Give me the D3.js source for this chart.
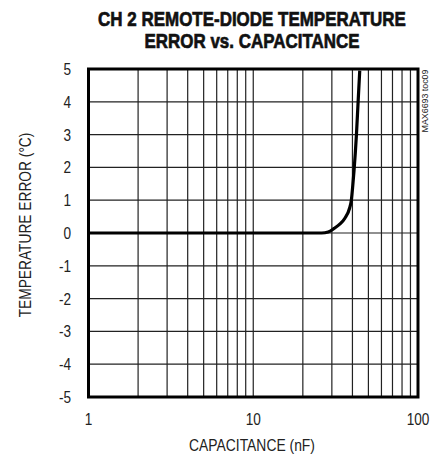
<!DOCTYPE html>
<html>
<head>
<meta charset="utf-8">
<script src="https://cdn.jsdelivr.net/npm/d3@7"></script>
<style>
  body { margin: 0; background: #fff; }
  text { font-family: "Liberation Sans", "DejaVu Sans", sans-serif; fill: #222; }
</style>
</head>
<body>
<div id="chart"></div>
<script>
// capacitance in nF, temperature error in degC
const capacitance = [1, 5, 10, 20, 26, 28.5, 31, 33.5, 36, 38.5, 39.4, 40.2, 40.9, 42.3, 43.3, 44.3];
const tempError   = [0, 0, 0, 0, 0, 0.03, 0.14, 0.27, 0.45, 0.77, 1.0, 1.45, 1.9, 3.0, 4.0, 4.95];

const yTicks = [5, 4, 3, 2, 1, 0, -1, -2, -3, -4, -5];
const xLabels = [1, 10, 100];
const xGrid = [2, 3, 4, 5, 6, 7, 8, 9, 10, 20, 30, 40, 50, 60, 70, 80, 90];

const width = 433, height = 460;
const plotLeft = 88.5, plotRight = 418, plotTop = 69, plotBottom = 397;

const svg = d3.select('#chart')
  .append('svg')
  .attr('width', width)
  .attr('height', height);

const x = d3.scaleLog().domain([1, 100]).range([plotLeft, plotRight]);
const y = d3.scaleLinear().domain([-5, 5]).range([plotBottom, plotTop]);

// squeeze a text to a given width with a transform (condensed look)
function squeeze(sel, tx, ty, len, rot) {
  const natural = sel.node().getComputedTextLength();
  const sx = len / natural;
  sel.attr('transform', `translate(${tx},${ty})` + (rot ? ` rotate(${rot})` : '') + ` scale(${sx},1)`);
}

// title
function title(txt, yPos, len) {
  const t = svg.append('text')
    .attr('text-anchor', 'middle')
    .style('font-weight', 'bold').style('font-size', '21px')
    .style('fill', '#111').style('stroke', '#111').style('stroke-width', 0.7)
    .text(txt);
  squeeze(t, 252, yPos, len);
}
title('CH 2 REMOTE-DIODE TEMPERATURE', 26, 308);
title('ERROR vs. CAPACITANCE', 48, 215);

// grid
svg.append('g').selectAll('line')
  .data(xGrid)
  .enter().append('line')
  .attr('x1', d => x(d)).attr('x2', d => x(d))
  .attr('y1', plotTop).attr('y2', plotBottom)
  .attr('stroke', '#222').attr('stroke-width', 1.2);

svg.append('g').selectAll('line')
  .data(yTicks)
  .enter().append('line')
  .attr('x1', plotLeft).attr('x2', plotRight)
  .attr('y1', d => y(d)).attr('y2', d => y(d))
  .attr('stroke', '#222').attr('stroke-width', 1.2);

// y tick labels (squeezed horizontally)
svg.append('g').selectAll('text')
  .data(yTicks)
  .enter().append('text')
  .attr('transform', d => `translate(71,${y(d) + 6}) scale(0.85,1)`)
  .attr('text-anchor', 'end')
  .style('font-size', '16px')
  .text(d => d);

// x tick labels
svg.append('g').selectAll('text')
  .data(xLabels)
  .enter().append('text')
  .attr('transform', d => `translate(${x(d)},425) scale(0.85,1)`)
  .attr('text-anchor', 'middle')
  .style('font-size', '16px')
  .text(d => d);

// axis titles
const xTitle = svg.append('text')
  .attr('text-anchor', 'middle')
  .style('font-size', '16px')
  .text('CAPACITANCE (nF)');
squeeze(xTitle, 252, 451, 126);

const yTitle = svg.append('text')
  .attr('text-anchor', 'middle')
  .style('font-size', '16px')
  .text('TEMPERATURE ERROR (°C)');
squeeze(yTitle, 31, 225, 185, -90);

const tag = svg.append('text')
  .attr('text-anchor', 'middle')
  .style('font-size', '9px')
  .text('MAX6693 toc09');
squeeze(tag, 428, 101, 63, -90);

// data curve
const line = d3.line()
  .x((d, i) => x(capacitance[i]))
  .y(d => y(d))
  .curve(d3.curveMonotoneX);

svg.append('path')
  .datum(tempError)
  .attr('d', line)
  .attr('fill', 'none')
  .attr('stroke', '#000')
  .attr('stroke-width', 3.2);

// frame
svg.append('rect')
  .attr('x', plotLeft).attr('y', plotTop)
  .attr('width', plotRight - plotLeft).attr('height', plotBottom - plotTop)
  .attr('fill', 'none')
  .attr('stroke', '#000')
  .attr('stroke-width', 3);
</script>
</body>
</html>
